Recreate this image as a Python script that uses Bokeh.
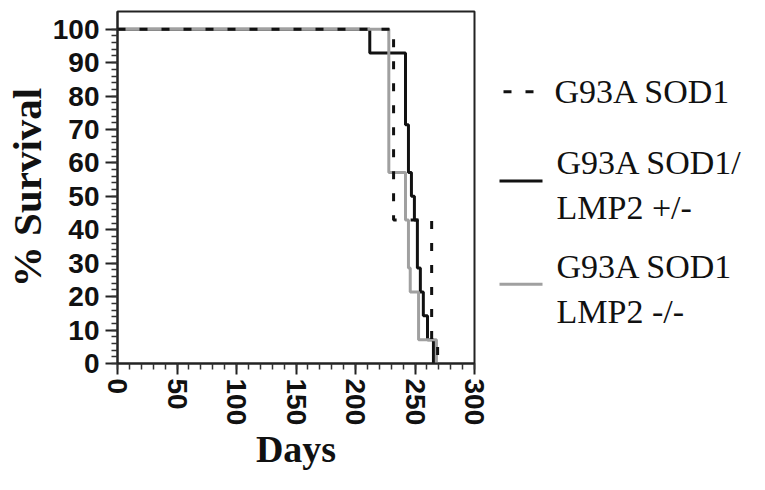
from bokeh.plotting import figure
from bokeh.models import Range1d, FixedTicker, Label
from bokeh.layouts import row
from bokeh.embed import file_html
from bokeh.resources import INLINE

# ---- data ----
days_sod1 = [0, 232, 264, 269]
surv_sod1 = [100, 42.9, 7.1, 0]

days_het = [0, 212, 242, 244.5, 247, 249.5, 252, 254.5, 257, 260.5, 265.5]
surv_het = [100, 92.9, 71.4, 57.1, 50, 42.9, 28.6, 21.4, 14.3, 7.1, 0]

days_ko = [0, 228, 242, 244.5, 246, 253, 268]
surv_ko = [100, 57.1, 42.9, 28.6, 21.4, 7.1, 0]

x_ticks = [0, 50, 100, 150, 200, 250, 300]
y_ticks = [0, 10, 20, 30, 40, 50, 60, 70, 80, 90, 100]
legend_labels = [["G93A SOD1"], ["G93A SOD1/", "LMP2 +/-"], ["G93A SOD1", "LMP2 -/-"]]

BLACK = "#111111"
GRAY = "#a0a0a0"

W_MAIN = 490
H = 473
p = figure(width=W_MAIN, height=H, x_range=Range1d(0, 300), y_range=Range1d(0, 105.3),
           output_backend="svg", toolbar_location=None,
           min_border_left=113, min_border_top=11, min_border_right=16, min_border_bottom=107)
p.grid.visible = False
p.outline_line_color = "#222222"
p.outline_line_width = 2
p.background_fill_color = "white"
p.border_fill_color = "white"

p.step(days_het, surv_het, mode="after", line_color=BLACK, line_width=3)
p.step(days_ko, surv_ko, mode="after", line_color=GRAY, line_width=3)
p.step(days_sod1, surv_sod1, mode="after", line_color=BLACK, line_width=3, line_dash="8 14")

p.xaxis.ticker = FixedTicker(ticks=x_ticks, minor_ticks=list(range(0, 301, 10)))
p.yaxis.ticker = FixedTicker(ticks=y_ticks, minor_ticks=list(range(0, 101, 2)))

for ax in (p.xaxis[0], p.yaxis[0]):
    ax.axis_line_width = 2
    ax.axis_line_color = "#222222"
    ax.major_tick_line_width = 2
    ax.minor_tick_line_width = 1.5
    ax.major_tick_line_color = "#222222"
    ax.minor_tick_line_color = "#333333"
    ax.major_tick_in = 0
    ax.minor_tick_out = 6
    ax.minor_tick_in = 0
    ax.major_label_text_font = "Liberation Sans"
    ax.major_label_text_font_style = "bold"
    ax.major_label_text_font_size = "28px"
    ax.major_label_text_color = "#111111"
    ax.axis_label_text_font = "Liberation Serif"
    ax.axis_label_text_font_style = "bold"
    ax.axis_label_text_color = "#111111"
    ax.axis_label_standoff = 0

p.yaxis.major_tick_out = 12
p.yaxis.major_label_standoff = 6
p.xaxis.major_tick_out = 11
p.xaxis.major_label_standoff = 4
p.xaxis.axis_label = "Days"
p.yaxis.axis_label = "% Survival"
p.xaxis.axis_label_text_font_size = "38px"
p.yaxis.axis_label_text_font_size = "41px"
p.xaxis.major_label_orientation = "vertical"

# ---- legend panel (coordinates in page pixels) ----
W_LEG = 749 - W_MAIN
X0 = W_MAIN + 3
lg = figure(width=W_LEG, height=H, x_range=Range1d(X0, X0 + W_LEG), y_range=Range1d(367, 12),
            output_backend="svg", toolbar_location=None, min_border=0)
lg.axis.visible = False
lg.grid.visible = False
lg.outline_line_color = None

lg.line([506, 536], [93, 93], line_color=BLACK, line_width=3, line_dash="8 14")
lg.line([502, 545], [183, 183], line_color=BLACK, line_width=3)
lg.line([502, 545], [287, 287], line_color=GRAY, line_width=3)

positions = [(557, 93), (559, 164), (559, 210), (559, 269), (559, 315)]
texts = [legend_labels[0][0], legend_labels[1][0], legend_labels[1][1],
         legend_labels[2][0], legend_labels[2][1]]
for (tx, ty), t in zip(positions, texts):
    lg.add_layout(Label(x=tx, y=ty, text=t, text_font="Liberation Serif", text_font_style="normal",
                        text_font_size="34px", text_baseline="middle", text_align="left",
                        text_color="#111111"))

layout = row(p, lg)
open("out.html", "w").write(file_html(layout, INLINE))
